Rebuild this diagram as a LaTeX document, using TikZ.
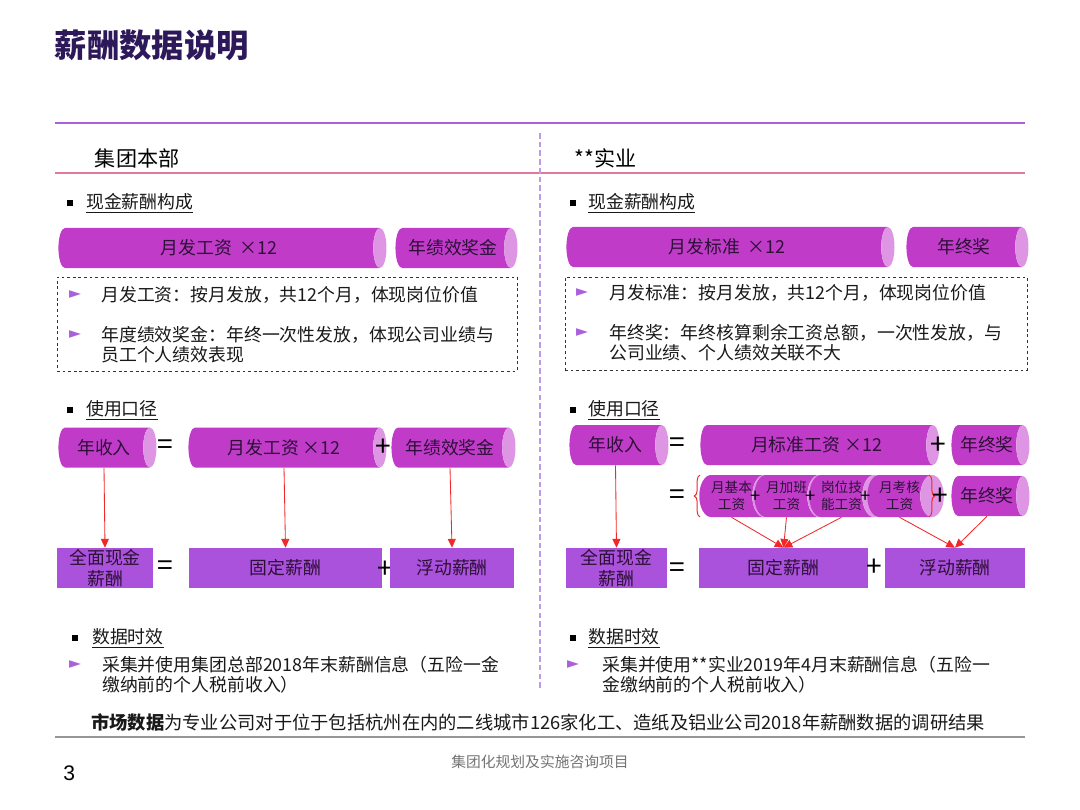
\documentclass[tikz,border=0pt]{standalone}
\usepackage{fontspec}
\setmainfont{Noto Sans CJK SC}
\newfontfamily\symfont{DejaVu Sans}
\newfontfamily\numfont{Liberation Sans}
\usetikzlibrary{arrows.meta,shapes.geometric,decorations.pathreplacing}
\definecolor{slpurple}{RGB}{45,25,90}
\definecolor{sllilac}{RGB}{170,95,220}
\definecolor{slpink}{RGB}{226,120,160}
\definecolor{sllavender}{RGB}{190,155,230}
\definecolor{slbody}{RGB}{192,60,200}
\definecolor{slend}{RGB}{222,150,228}
\definecolor{slviolet}{RGB}{170,82,220}
\definecolor{slink}{RGB}{45,15,55}
\definecolor{slred}{RGB}{240,40,40}
\definecolor{slgray}{RGB}{150,150,150}
\newcommand{\fsz}[2]{\fontsize{#1}{#2}\selectfont}
\tikzset{
  barrel/.style={cylinder, shape aspect=0.8, cylinder uses custom fill, cylinder body fill=slbody, cylinder end fill=slend, inner sep=0pt, minimum width=1cm, minimum height=#1, text=slink, font=\fsz{12.7}{15}},
  minibarrel/.style={barrel=#1, font=\fsz{9.7}{12}, align=center, minimum width=1.05cm},
  panel/.style={fill=slviolet, inner sep=0pt, minimum height=1cm, minimum width=#1, text=slink, font=\fsz{12.7}{14.5}, align=center},
  op/.style={font=\fsz{20}{20}, inner sep=0pt},
  smallop/.style={font=\fsz{13}{13}, inner sep=0pt},
  sq/.style={fill=black, minimum size=0.14cm, inner sep=0pt},
  tri/.style={font=\symfont\fsz{11}{11}, text=sllilac, inner sep=0pt},
  body/.style={anchor=west, font=\fsz{12.7}{14.2}, align=left, inner sep=0pt, text=black!90},
  notebox/.style={draw=black!80, dash pattern=on 2pt off 2pt, line width=0.6pt, inner sep=0pt},
  flow/.style={-{Triangle[length=0.22cm,width=0.2cm]}, slred, line width=0.6pt},
  bracket/.style={decorate, decoration={brace, amplitude=4pt}, slred, line width=0.7pt},
}
\begin{document}
\begin{tikzpicture}[x=0.025cm, y=-0.025cm]
  \useasboundingbox (0,0) rectangle (1080,810);

  \node[anchor=west, font=\fsz{23}{28}\bfseries, text=slpurple] (title) at (50,45) {薪酬数据说明};

  %--- frame lines ---
  \draw[sllilac, line width=1.4pt] (55,123) -- (1025,123);
  \draw[slpink, line width=0.8pt] (55,173) -- (1025,173);
  \draw[sllavender, line width=1.3pt, dash pattern=on 4pt off 2.2pt] (540,133) -- (540,690);

  %--- column heads ---
  \node[anchor=west, font=\fsz{15}{18}] (hq) at (90,158) {集团本部};
  \node[anchor=west, font=\fsz{15}{18}] (sy) at (570,158) {**实业};

  %--- cash pay structure: left ---
  \node[sq] (sqa) at (70,203) {};
  \node[body] (capa) at (86,203) {\underline{现金薪酬构成}};
  \node[barrel=8.2cm] (mpay) at (219,248) {月发工资\ \ ×12};
  \node[barrel=3.05cm] (bonus) at (453,248) {年绩效奖金};
  \node[notebox, minimum width=11.5cm, minimum height=2.35cm] (nbl) at (287,324) {};
  \node[tri] (ta1) at (75,295) {►};
  \node[body] (na1) at (101,295) {月发工资：按月发放，共12个月，体现岗位价值};
  \node[tri] (ta2) at (75,335) {►};
  \node[body] (na2) at (101,345) {年度绩效奖金：年终一次性发放，体现公司业绩与\\员工个人绩效表现};

  %--- cash pay structure: right ---
  \node[sq] (sqb) at (573,203) {};
  \node[body] (capb) at (588,203) {\underline{现金薪酬构成}};
  \node[barrel=8.2cm] (mstd) at (727,247) {月发标准\ \ ×12};
  \node[barrel=3.05cm] (yend) at (964,247) {年终奖};
  \node[notebox, minimum width=11.55cm, minimum height=2.325cm] (nbr) at (796,323.5) {};
  \node[tri] (tb1) at (582,293) {►};
  \node[body] (nb1) at (609,293) {月发标准：按月发放，共12个月，体现岗位价值};
  \node[tri] (tb2) at (582,333) {►};
  \node[body] (nb2) at (609,343) {年终奖：年终核算剩余工资总额，一次性发放，与\\公司业绩、个人绩效关联不大};

  %--- usage: left ---
  \node[sq] (sqc) at (70,410) {};
  \node[body] (usea) at (86,410) {\underline{使用口径}};
  \node[barrel=2.45cm] (incl) at (104,447.5) {年收入};
  \node[op] (eqa) at (165,447) {=};
  \node[barrel=4.95cm] (mpayb) at (284,447.5) {月发工资 ×12};
  \node[barrel=3.1cm] (bonusb) at (450,447.5) {年绩效奖金};
  \node[op] (pla) at (383,448) {+};
  \node[panel=2.4cm] (totl) at (105,568) {全面现金\\薪酬};
  \node[op] (eqb) at (165,568) {=};
  \node[panel=4.825cm] (fixl) at (285.5,568) {固定薪酬};
  \node[op] (plb) at (385,570) {+};
  \node[panel=3.1cm] (flol) at (452,568) {浮动薪酬};
  \draw[flow] (incl.south) -- (totl.north);
  \draw[flow] (mpayb.south) -- (fixl.north);
  \draw[flow] (bonusb.south) -- (flol.north);

  %--- usage: right ---
  \node[sq] (sqd) at (573,410) {};
  \node[body] (useb) at (588,410) {\underline{使用口径}};
  \node[barrel=2.475cm] (incr) at (615.5,445) {年收入};
  \node[op] (eqc) at (677,445) {=};
  \node[barrel=5.975cm] (mstdb) at (816.5,445) {月标准工资 ×12};
  \node[op] (plc) at (938,446) {+};
  \node[barrel=1.95cm] (yendb) at (987,445) {年终奖};
  \node[op] (eqd) at (677,497) {=};
  \node[minibarrel=1.45cm] (basic) at (731.5,496) {月基本\\工资};
  \node[minibarrel=1.425cm] (ovt) at (786.5,496) {月加班\\工资};
  \node[minibarrel=1.425cm] (skill) at (841.5,496) {岗位技\\能工资};
  \node[minibarrel=1.425cm] (asmt) at (899.5,496) {月考核\\工资};
  \node[smallop] (pld) at (756,497) {+};
  \node[smallop] (ple) at (811,497) {+};
  \node[smallop] (plf) at (866,497) {+};
  \draw[bracket] (700,517) -- (700,475);
  \draw[bracket] (929,475) -- (929,517);
  \node[op] (plg) at (940,497) {+};
  \node[barrel=1.95cm] (yendc) at (987,496) {年终奖};
  \node[panel=2.525cm] (totr) at (616.5,568) {全面现金\\薪酬};
  \node[op] (eqe) at (677,570) {=};
  \node[panel=4.225cm] (fixr) at (783.5,568) {固定薪酬};
  \node[op] (plh) at (874,568) {+};
  \node[panel=3.5cm] (flor) at (955,568) {浮动薪酬};
  \draw[flow] (incr.south) -- (totr.north);
  \draw[flow] (basic.south) -- (fixr.north);
  \draw[flow] (ovt.south) -- (fixr.north);
  \draw[flow] (skill.south) -- (fixr.north);
  \draw[flow] (asmt.south) -- (flor.north);
  \draw[flow] (yendc.south) -- (flor.north);

  %--- data timing ---
  \node[sq] (sqe) at (75,638) {};
  \node[body] (tima) at (92,638) {\underline{数据时效}};
  \node[tri] (tc1) at (75,665) {►};
  \node[body] (nc1) at (102,675) {采集并使用集团总部2018年末薪酬信息（五险一金\\缴纳前的个人税前收入）};
  \node[sq] (sqf) at (573,638) {};
  \node[body] (timb) at (588,638) {\underline{数据时效}};
  \node[tri] (td1) at (573,665) {►};
  \node[body] (nd1) at (602,675) {采集并使用**实业2019年4月末薪酬信息（五险一\\金缴纳前的个人税前收入）};

  %--- footer ---
  \node[body, font=\fsz{13}{15}] (mkt) at (91,722) {\textbf{市场数据}为专业公司对于位于包括杭州在内的二线城市126家化工、造纸及铝业公司2018年薪酬数据的调研结果};
  \draw[slgray, line width=1.1pt] (55,737) -- (1025,737);
  \node[font=\fsz{10.5}{12}, text=black!55] (proj) at (540,762) {集团化规划及实施咨询项目};
  \node[anchor=west, font=\numfont\fsz{15}{18}, inner sep=0pt] (pg) at (63,773) {3};
\end{tikzpicture}
\end{document}
